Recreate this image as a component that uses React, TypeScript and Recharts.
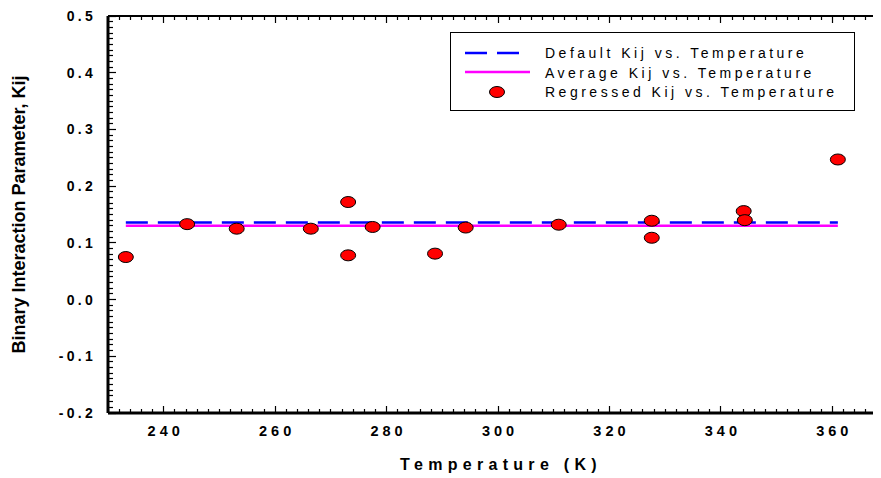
import React from "react";
import { ScatterChart, Scatter, XAxis, YAxis } from "recharts";

// Regressed Kij data
const temperatures = [233.2, 244.2, 253.1, 266.4, 273.1, 273.1, 277.5, 288.7, 294.2, 310.9, 327.6, 327.6, 344.1, 344.3, 361.0];
const kijValues = [0.075, 0.133, 0.125, 0.125, 0.172, 0.078, 0.128, 0.081, 0.127, 0.132, 0.139, 0.109, 0.156, 0.140, 0.247];

// Constant lines
const lineRange = [233.2, 361.0];
const defaultKij = 0.136;
const averageKij = 0.130;

// Axis ticks
const xDomain = [230, 370];
const yDomain = [-0.2, 0.5];
const xMajorTicks = [240, 260, 280, 300, 320, 340, 360];
const yMajorTicks = [-0.2, -0.1, 0.0, 0.1, 0.2, 0.3, 0.4, 0.5];
const xMinorStep = 2;
const yMinorStep = 0.01;

const legendLabels = [
  "Default Kij vs. Temperature",
  "Average Kij vs. Temperature",
  "Regressed Kij vs. Temperature",
];

const regressed = temperatures.map((t, i) => ({ t, k: kijValues[i] }));
const defaultLine = lineRange.map((t) => ({ t, k: defaultKij }));
const averageLine = lineRange.map((t) => ({ t, k: averageKij }));

const xTicks: number[] = [];
for (let i = 0; i <= Math.round((xDomain[1] - xDomain[0]) / xMinorStep); i++) {
  xTicks.push(xDomain[0] + i * xMinorStep);
}
const yTicks: number[] = [];
for (let i = 0; i <= Math.round((yDomain[1] - yDomain[0]) / yMinorStep); i++) {
  yTicks.push(Math.round((yDomain[0] + i * yMinorStep) * 100) / 100);
}

const FONT = "Arial, 'Liberation Sans', sans-serif";
const isXMajor = (v: number) => xMajorTicks.some((m) => Math.abs(m - v) < 1e-6);
const isYMajor = (v: number) => yMajorTicks.some((m) => Math.abs(m - v) < 1e-6);
const snap = (v: number) => Math.round(v - 0.5) + 0.5;

const BottomTick = (props: any) => {
  const { x, y, payload } = props;
  const major = isXMajor(payload.value);
  const sx = snap(x);
  return (
    <g>
      <path d={`M${sx},${y}V${y - (major ? 7 : 4)}`} stroke="#000" strokeWidth={1.2} fill="none" />
      {major && (
        <text x={x + 2} y={y + 23} textAnchor="middle" fontFamily={FONT} fontWeight="bold" fontSize={14.5} letterSpacing={4} fill="#000">
          {payload.value}
        </text>
      )}
    </g>
  );
};

const TopTick = (props: any) => {
  const { x, y, payload } = props;
  const major = isXMajor(payload.value);
  const sx = snap(x);
  return <path d={`M${sx},${y}V${y + (major ? 7 : 4)}`} stroke="#000" strokeWidth={1.2} fill="none" />;
};

const LeftTick = (props: any) => {
  const { x, y, payload } = props;
  const major = isYMajor(payload.value);
  const sy = snap(y);
  return (
    <g>
      <path d={`M${x},${sy}H${x + (major ? 8 : 5)}`} stroke="#000" strokeWidth={1.2} fill="none" />
      {major && (
        <text x={x - 12} y={y + 5} textAnchor="end" fontFamily={FONT} fontWeight="bold" fontSize={14} letterSpacing={3.3} fill="#000">
          {Number(payload.value).toFixed(1)}
        </text>
      )}
    </g>
  );
};

const RightTick = (props: any) => {
  const { x, y, payload } = props;
  const major = isYMajor(payload.value);
  const sy = snap(y);
  return <path d={`M${x},${sy}H${x - (major ? 10 : 5)}`} stroke="#000" strokeWidth={1.2} fill="none" />;
};

const Dot = (props: any) => {
  const { cx, cy } = props;
  if (cx == null || cy == null) return <g />;
  return <ellipse cx={cx} cy={cy} rx={7.5} ry={5.5} fill="#FF0000" stroke="#000" strokeWidth={1} />;
};

const NoShape = () => <g />;

const XTitle = (props: any) => {
  const vb = props.viewBox || {};
  return (
    <text x={vb.x + vb.width / 2 + 3} y={vb.y + 57} textAnchor="middle" fontFamily={FONT} fontWeight="bold" fontSize={16} letterSpacing={5.3} fill="#000">
      Temperature (K)
    </text>
  );
};

const YTitle = (props: any) => {
  const vb = props.viewBox || {};
  const cy = vb.y + vb.height / 2;
  return (
    <text x={17} y={cy} transform={`rotate(-90, 17, ${cy})`} textAnchor="middle" fontFamily={FONT} fontWeight="bold" fontSize={18} fill="#000">
      Binary Interaction Parameter, Kij
    </text>
  );
};

export default function App() {
  return (
    <div style={{ position: "relative", width: 873, height: 470, overflow: "hidden" }}>
      <ScatterChart width={900} height={470} margin={{ top: 0, right: 0, bottom: 0, left: 0 }}>
        <XAxis
          xAxisId="bottom"
          orientation="bottom"
          type="number"
          dataKey="t"
          domain={xDomain}
          ticks={xTicks}
          interval={0}
          height={65}
          tickSize={0}
          tickMargin={0}
          tickLine={false}
          tick={(p: any) => <BottomTick {...p} />}
          axisLine={{ stroke: "#000", strokeWidth: 3 }}
          allowDataOverflow
          label={<XTitle />}
        />
        <XAxis
          xAxisId="top"
          orientation="top"
          type="number"
          dataKey="t"
          domain={xDomain}
          ticks={xTicks}
          interval={0}
          height={8}
          tickSize={0}
          tickMargin={0}
          tickLine={false}
          tick={(p: any) => <TopTick {...p} />}
          axisLine={{ stroke: "#000", strokeWidth: 2 }}
          allowDataOverflow
        />
        <YAxis
          yAxisId="left"
          orientation="left"
          type="number"
          dataKey="k"
          domain={yDomain}
          ticks={yTicks}
          interval={0}
          width={100}
          tickSize={0}
          tickMargin={0}
          tickLine={false}
          tick={(p: any) => <LeftTick {...p} />}
          axisLine={{ stroke: "#000", strokeWidth: 3 }}
          allowDataOverflow
          label={<YTitle />}
        />
        <YAxis
          yAxisId="right"
          orientation="right"
          type="number"
          dataKey="k"
          domain={yDomain}
          ticks={yTicks}
          interval={0}
          width={20}
          tickSize={0}
          tickMargin={0}
          tickLine={false}
          tick={(p: any) => <RightTick {...p} />}
          axisLine={{ stroke: "#000", strokeWidth: 2 }}
          allowDataOverflow
        />
        <Scatter
          name={legendLabels[0]}
          data={defaultLine}
          xAxisId="bottom"
          yAxisId="left"
          line={{ stroke: "#0000FF", strokeWidth: 2.5, strokeDasharray: "22 10" }}
          shape={<NoShape />}
          isAnimationActive={false}
        />
        <Scatter
          name={legendLabels[1]}
          data={averageLine}
          xAxisId="bottom"
          yAxisId="left"
          line={{ stroke: "#FF00FF", strokeWidth: 2.5 }}
          shape={<NoShape />}
          isAnimationActive={false}
        />
        <Scatter
          name={legendLabels[2]}
          data={regressed}
          xAxisId="bottom"
          yAxisId="left"
          shape={<Dot />}
          isAnimationActive={false}
        />
      </ScatterChart>
      <div
        style={{
          position: "absolute",
          left: 442,
          top: 24,
          width: 405,
          height: 79,
          boxSizing: "border-box",
          border: "1.5px solid #000",
          background: "#fff",
        }}
      >
        <svg width={402} height={76} style={{ display: "block" }}>
          <line x1={14} x2={68} y1={20} y2={20} stroke="#0000FF" strokeWidth={2.5} strokeDasharray="22 10" />
          <line x1={14} x2={79} y1={39} y2={39} stroke="#FF00FF" strokeWidth={2.5} />
          <ellipse cx={46} cy={59} rx={7.5} ry={5.5} fill="#FF0000" stroke="#000" strokeWidth={1} />
          {legendLabels.map((l, i) => (
            <text key={l} x={94} y={25 + i * 19.5} fontFamily={FONT} fontSize={14} letterSpacing={3.5} fill="#000">
              {l}
            </text>
          ))}
        </svg>
      </div>
    </div>
  );
}
